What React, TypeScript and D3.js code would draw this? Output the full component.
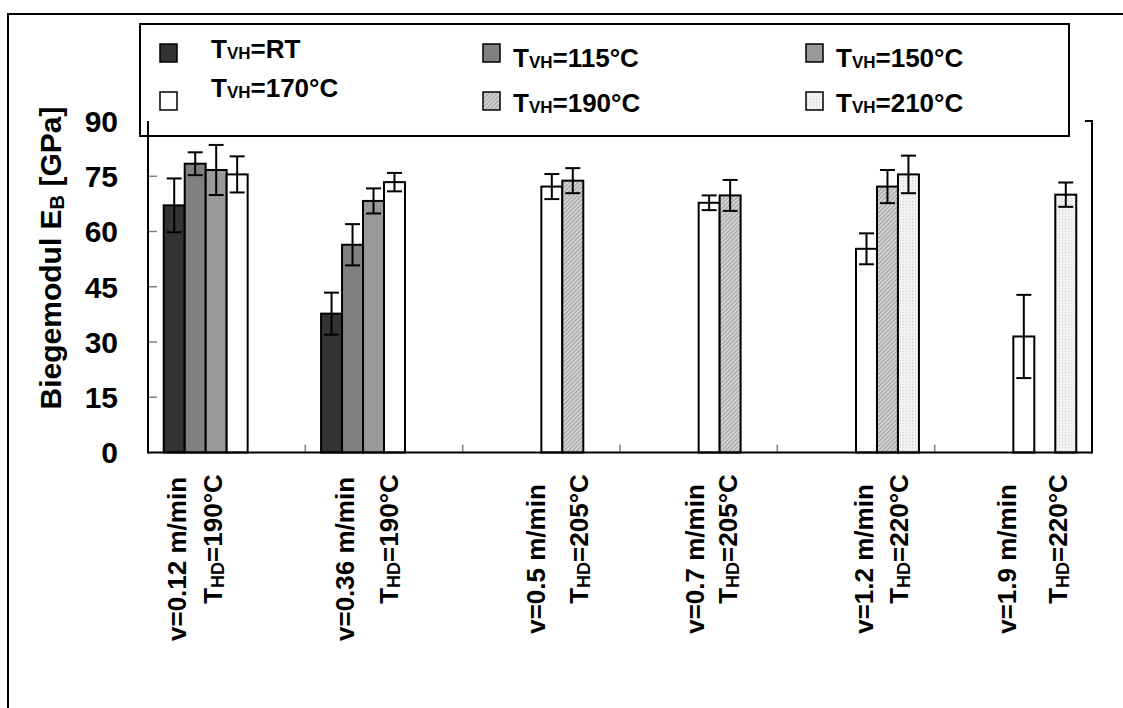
import React, { useEffect, useRef } from "react";
import * as d3 from "d3";

// categories (drawing speed + heating temperature)
const speeds = ["v=0.12 m/min", "v=0.36 m/min", "v=0.5 m/min", "v=0.7 m/min", "v=1.2 m/min", "v=1.9 m/min"];
const hdTemps = ["190°C", "190°C", "205°C", "205°C", "220°C", "220°C"];

// series (pre-heating temperature)
const seriesNames = ["RT", "115°C", "150°C", "170°C", "190°C", "210°C"];

const valRT = [67.1, 37.7, null, null, null, null];
const errRT = [7.3, 5.7, null, null, null, null];
const val115 = [78.4, 56.4, null, null, null, null];
const err115 = [3.1, 5.6, null, null, null, null];
const val150 = [76.7, 68.3, null, null, null, null];
const err150 = [6.8, 3.4, null, null, null, null];
const val170 = [75.5, 73.4, 72.2, 67.8, 55.3, 31.5];
const err170 = [4.9, 2.5, 3.4, 2.0, 4.2, 11.3];
const val190 = [null, null, 73.8, 69.8, 72.2, null];
const err190 = [null, null, 3.4, 4.2, 4.5, null];
const val210 = [null, null, null, null, 75.5, 70.0];
const err210 = [null, null, null, null, 5.1, 3.3];

const yTicks = [0, 15, 30, 45, 60, 75, 90];

const seriesValues = [valRT, val115, val150, val170, val190, val210];
const seriesErrors = [errRT, err115, err150, err170, err190, err210];

const fills = ["#333333", "#808080", "#999999", "#ffffff", "url(#hatch190)", "url(#dots210)"];

// label line offsets (px from category centre), excel wrapped them unevenly
const labelShift = [[-41, -5], [-30, 14], [4, 47], [5, 38], [17, 52], [3, 54]];

const FONT = "'Liberation Sans', Arial, sans-serif";

const App = () => {
  const svgRef = useRef(null);
  const width = 1123;
  const height = 708;
  const left = 148, right = 1092, top = 121, bottom = 452.5;

  useEffect(() => {
    const svg = d3.select(svgRef.current);
    svg.selectAll("*").remove();

    const defs = svg.append("defs");
    const hatch = defs.append("pattern")
      .attr("id", "hatch190")
      .attr("patternUnits", "userSpaceOnUse")
      .attr("width", 3)
      .attr("height", 3)
      .attr("patternTransform", "rotate(-45)");
    hatch.append("rect").attr("width", 3).attr("height", 3).attr("fill", "#dcdcdc");
    hatch.append("line").attr("x1", 0).attr("y1", 0.75).attr("x2", 3).attr("y2", 0.75)
      .attr("stroke", "#8c8c8c").attr("stroke-width", 1);

    const dots = defs.append("pattern")
      .attr("id", "dots210")
      .attr("patternUnits", "userSpaceOnUse")
      .attr("width", 3)
      .attr("height", 3);
    dots.append("rect").attr("width", 3).attr("height", 3).attr("fill", "#f2f2f2");
    dots.append("rect").attr("width", 1).attr("height", 1).attr("fill", "#d4d4d4");

    // outer frame
    svg.append("rect")
      .attr("x", 8).attr("y", 14)
      .attr("width", 1140).attr("height", 720)
      .attr("fill", "none").attr("stroke", "#000").attr("stroke-width", 2);

    const x0 = d3.scaleBand().domain(speeds).range([left, right]).padding(0);
    const x1 = d3.scaleBand().domain(seriesNames).range([0, x0.bandwidth()])
      .paddingInner(0).paddingOuter(0.75);
    const y = d3.scaleLinear().domain([0, 90]).range([bottom, top]);

    // y ticks (inside, grey)
    svg.append("g").selectAll("line").data(yTicks.slice(1, -1)).enter().append("line")
      .attr("x1", left).attr("x2", left + 9)
      .attr("y1", d => y(d)).attr("y2", d => y(d))
      .attr("stroke", "#808080").attr("stroke-width", 1.5);

    // x ticks at category boundaries
    svg.append("g").selectAll("line").data(speeds.slice(1)).enter().append("line")
      .attr("x1", d => x0(d)).attr("x2", d => x0(d))
      .attr("y1", bottom).attr("y2", bottom - 8)
      .attr("stroke", "#808080").attr("stroke-width", 1.5);

    // bars
    seriesNames.forEach((s, si) => {
      const rows = speeds.map((c, ci) => ({ c, v: seriesValues[si][ci], e: seriesErrors[si][ci] }))
        .filter(d => d.v != null);
      const g = svg.append("g");
      g.selectAll("rect").data(rows).enter().append("rect")
        .attr("x", d => x0(d.c) + x1(s))
        .attr("y", d => y(d.v))
        .attr("width", x1.bandwidth())
        .attr("height", d => y(0) - y(d.v))
        .attr("fill", fills[si])
        .attr("stroke", "#000")
        .attr("stroke-width", 2);

      const cx = d => x0(d.c) + x1(s) + x1.bandwidth() / 2;
      const eb = g.selectAll(".err").data(rows).enter().append("g");
      eb.append("line")
        .attr("x1", cx).attr("x2", cx)
        .attr("y1", d => y(d.v + d.e)).attr("y2", d => y(d.v - d.e))
        .attr("stroke", "#000").attr("stroke-width", 2);
      [1, -1].forEach(sign => {
        eb.append("line")
          .attr("x1", d => cx(d) - 7.5).attr("x2", d => cx(d) + 7.5)
          .attr("y1", d => y(d.v + sign * d.e)).attr("y2", d => y(d.v + sign * d.e))
          .attr("stroke", "#000").attr("stroke-width", 2);
      });
    });

    // axes / plot frame
    svg.append("line").attr("x1", left).attr("x2", left).attr("y1", top).attr("y2", bottom + 1)
      .attr("stroke", "#000").attr("stroke-width", 2);
    svg.append("line").attr("x1", left).attr("x2", right).attr("y1", bottom).attr("y2", bottom)
      .attr("stroke", "#000").attr("stroke-width", 2);
    svg.append("line").attr("x1", right).attr("x2", right).attr("y1", top - 1).attr("y2", bottom + 1)
      .attr("stroke", "#000").attr("stroke-width", 2);
    svg.append("line").attr("x1", right - 7).attr("x2", right + 1).attr("y1", top).attr("y2", top)
      .attr("stroke", "#000").attr("stroke-width", 2);

    // y tick labels
    svg.append("g").selectAll("text").data(yTicks).enter().append("text")
      .attr("x", 118).attr("y", d => y(d)).attr("dy", "0.36em")
      .attr("text-anchor", "end")
      .style("font-family", FONT).style("font-weight", "bold").style("font-size", "30px")
      .text(d => d);

    // y title
    const yt = svg.append("text")
      .attr("transform", "translate(61,258) rotate(-90)")
      .attr("text-anchor", "middle")
      .style("font-family", FONT).style("font-weight", "bold").style("font-size", "30px");
    yt.append("tspan").text("Biegemodul E");
    yt.append("tspan").attr("dy", 3).style("font-size", "20px").text("B");
    yt.append("tspan").attr("dy", -3).text(" [GPa]");

    // category labels (rotated, two lines)
    speeds.forEach((c, ci) => {
      const cxc = x0(c) + x0.bandwidth() / 2;
      svg.append("text")
        .attr("transform", `translate(${cxc + labelShift[ci][0]},559) rotate(-90)`)
        .attr("text-anchor", "middle")
        .style("font-family", FONT).style("font-weight", "bold").style("font-size", "26px")
        .text(c);
      const t2 = svg.append("text")
        .attr("transform", `translate(${cxc + labelShift[ci][1]},539) rotate(-90)`)
        .attr("text-anchor", "middle")
        .style("font-family", FONT).style("font-weight", "bold").style("font-size", "26px");
      t2.append("tspan").text("T");
      t2.append("tspan").attr("dy", 2).style("font-size", "18px").text("HD");
      t2.append("tspan").attr("dy", -2).text("=" + hdTemps[ci]);
    });

    // legend
    svg.append("rect")
      .attr("x", 140).attr("y", 24).attr("width", 929).attr("height", 112)
      .attr("fill", "none").attr("stroke", "#000").attr("stroke-width", 2);

    const colSwatch = [160, 483, 806];
    const colText = [211, 513, 836];
    const rowSwatch = [44, 92];
    const rowText = [[58, 97], [67, 112], [67, 112]];
    seriesNames.forEach((s, si) => {
      const col = si < 3 ? si : si - 3;
      const row = si < 3 ? 0 : 1;
      svg.append("rect")
        .attr("x", colSwatch[col]).attr("y", rowSwatch[row])
        .attr("width", 17).attr("height", 18)
        .attr("fill", fills[si]).attr("stroke", "#000").attr("stroke-width", 1.5);
      const t = svg.append("text")
        .attr("x", colText[col]).attr("y", rowText[col][row])
        .style("font-family", FONT).style("font-weight", "bold").style("font-size", "26px");
      t.append("tspan").text("T");
      t.append("tspan").attr("dy", 1).style("font-size", "17px").text("VH");
      t.append("tspan").attr("dy", -1).text("=" + s);
    });
  }, []);

  return (
    <svg ref={svgRef} width={width} height={height}
      style={{ position: "absolute", left: 0, top: 0, background: "#fff" }} />
  );
};

export default App;
